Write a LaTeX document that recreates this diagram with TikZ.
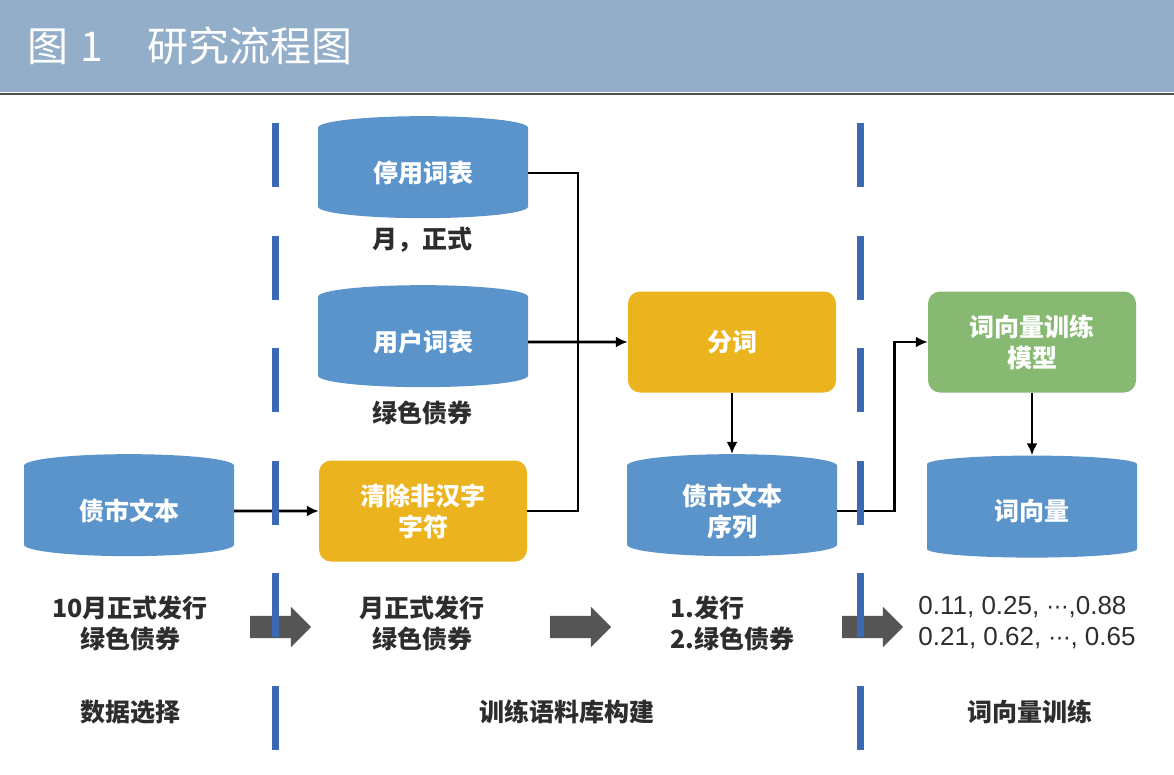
\documentclass[tikz,border=0pt]{standalone}
\usepackage{fontspec}
\setmainfont{Noto Sans CJK SC}
\newfontfamily\numfont{Liberation Sans}
\newfontfamily\symfont{DejaVu Sans}
\usepackage{tikz}
\usetikzlibrary{arrows.meta}
\usetikzlibrary{shapes.geometric}
\usetikzlibrary{shapes.arrows}
\usetikzlibrary{positioning}
\definecolor{barblue}{RGB}{146,174,200}
\definecolor{headline}{RGB}{80,80,80}
\definecolor{dbblue}{RGB}{90,148,203}
\definecolor{stepyellow}{RGB}{235,180,30}
\definecolor{stepgreen}{RGB}{135,185,115}
\definecolor{sepblue}{RGB}{60,105,180}
\definecolor{arrowgray}{RGB}{85,85,85}
\definecolor{labelgray}{RGB}{45,45,45}
\newcommand\titlefont{\fontsize{41}{46}\selectfont}
\newcommand\boxfont{\fontsize{25}{31}\selectfont\bfseries}
\newcommand\labelfont{\fontsize{25}{31}\selectfont\bfseries}
\newcommand\mdots{{\symfont\fontsize{22}{31}\selectfont ⋯}}
\tikzset{
  % Common styles for the diagram
  >=latex,
  line/.style={draw, line width=2.8pt, -{Latex[length=12pt,width=11pt]}},
  wire/.style={draw, line width=2.8pt},
  db/.style={cylinder, shape border rotate=90, aspect=0.23, fill=dbblue,
    minimum width=210pt, minimum height=102pt, text=white, font=\boxfont,
    align=center, inner sep=0pt},
  stepbox/.style={rectangle, rounded corners=12pt, fill=#1, minimum width=208pt,
    minimum height=101pt, text=white, font=\boxfont, align=center}
}
\begin{document}
\begin{tikzpicture}[x=1pt, y=-1pt]
    \useasboundingbox (0,0) rectangle (1174,774);
    \tikzstyle{label} = [text=labelgray, font=\labelfont, align=center]
    \tikzstyle{bigarrow} = [single arrow, fill=arrowgray, inner sep=11pt,
      minimum height=61pt, single arrow head extend=9pt]
    \tikzstyle{sep} = [draw=sepblue, line width=7pt, dash pattern=on 64pt off 48.5pt]

    % Title bar
    \fill[barblue] (0,0) rectangle (1174,92);
    \draw[headline, line width=2.5pt] (0,94) -- (1174,94);
    \node[anchor=west, text=white, font=\titlefont] (title) at (24,46)
      {图\hspace{12pt}1\hspace{44pt}研究流程图};

    % Place nodes - dictionaries
    \node [db] (stop) at (423,173) {停用词表};
    \node [label] (stopex) at (422,240) {月，正式};
    \node [db] (user) at (423,342) {用户词表};
    \node [label] (userex) at (422,413) {绿色债券};

    % Place nodes - main flow
    \node [db] (src) at (129,511) {债市文本};
    \node [stepbox=stepyellow] (clean) at (423,511) {清除非汉字\\字符};
    \node [stepbox=stepyellow] (seg) at (732,342) {分词};
    \node [db] (seq) at (732,511) {债市文本\\序列};
    \node [stepbox=stepgreen] (model) at (1032,342) {词向量训练\\模型};
    \node [db] (vec) at (1032,511) {词向量};

    % Place nodes - examples and stages
    \node [label] (ex1) at (130,623) {10月正式发行\\绿色债券};
    \node [label] (ex2) at (422,623) {月正式发行\\绿色债券};
    \node [label, align=left] (ex3) at (732,623) {1.发行\\2.绿色债券};
    \node [label, align=left, font=\numfont\fontsize{26}{31}\selectfont] (ex4) at (1027,623)
      {0.11, 0.25, \mdots,0.88\\0.21, 0.62, \mdots, 0.65};
    \node [label] (stage1) at (130,712) {数据选择};
    \node [label] (stage2) at (567,712) {训练语料库构建};
    \node [label] (stage3) at (1030,712) {词向量训练};

    % Big arrows between examples
    \node [bigarrow] (go1) at (275,627) {};
    \node [bigarrow] (go2) at (575,627) {};
    \node [bigarrow] (go3) at (867,627) {};

    % Draw edges
    \coordinate (bus) at (578,342);
    \path [wire] (stop.east) -| (bus);
    \path [wire] (clean.east) -| (bus);
    \path [line] (user.east) -- (seg.west);
    \path [line] (src.east) -- (clean.west);
    \path [line] (seg.south) -- (seq.north);
    \path [line] (seq.east) -- ++(57,0) |- (model.west);
    \path [line] (model.south) -- (vec.north);

    % Stage separators
    \path [sep] (275,123) -- (275,750);
    \path [sep] (860,123) -- (860,750);
\end{tikzpicture}
\end{document}
